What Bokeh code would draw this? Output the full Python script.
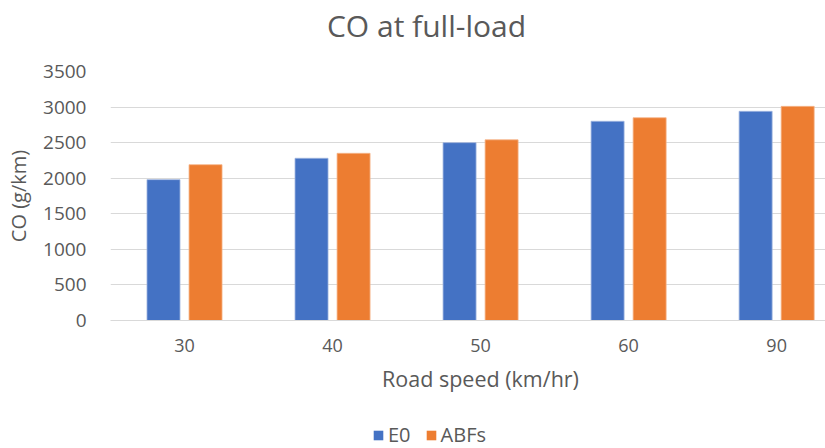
import numpy as np
from bokeh.plotting import figure
from bokeh.layouts import column
from bokeh.models import Legend, LegendItem, Range1d, FixedTicker, Label
from bokeh.embed import file_html
from bokeh.resources import INLINE

categories = ["30", "40", "50", "60", "90"]
e0 = [1980, 2280, 2500, 2800, 2940]
abfs = [2190, 2350, 2540, 2850, 3010]
y_ticks = [0, 500, 1000, 1500, 2000, 2500, 3000, 3500]
series_names = ["E0", "ABFs"]
series_colors = ["#4472C4", "#ED7D31"]
title_text = "CO at full-load"
x_title = "Road speed (km/hr)"
y_title = "CO (g/km)"

FONT = "Open Sans"
GRAY = "#595959"

idx = np.arange(len(categories))


def strip(height):
    f = figure(width=825, height=height, output_backend="svg", toolbar_location=None,
               x_range=Range1d(0, 715), y_range=Range1d(0, height), min_border=0)
    f.axis.visible = False
    f.grid.visible = False
    f.outline_line_color = None
    return f


# title strip
tf = strip(50)
tf.add_layout(Label(x=316, y=25, text=title_text, text_font=FONT, text_font_size="30px",
                    text_color=GRAY, text_align="center", text_baseline="middle"))

# main chart
p = figure(width=825, height=315, output_backend="svg", toolbar_location=None,
           x_range=Range1d(-0.5, 4.33), y_range=Range1d(0, 3500),
           min_border_left=110, min_border_right=0, min_border_top=21, min_border_bottom=45)
p.outline_line_color = None

p.vbar(x=idx - 0.142, top=e0, width=0.223, fill_color=series_colors[0], line_color="#9fb5e0", line_width=0.8)
p.vbar(x=idx + 0.142, top=abfs, width=0.223, fill_color=series_colors[1], line_color="#f5b58a", line_width=0.8)

p.xaxis.ticker = FixedTicker(ticks=list(idx))
p.xaxis.major_label_overrides = {int(i): c for i, c in zip(idx, categories)}
p.xaxis.major_tick_line_color = None
p.xaxis.minor_tick_line_color = None
p.xaxis.axis_line_color = "#d9d9d9"
p.xaxis.axis_line_width = 1.2
p.xaxis.major_label_text_font = FONT
p.xaxis.major_label_text_font_size = "18px"
p.xaxis.major_label_text_color = GRAY
p.xaxis.major_label_standoff = 12

p.yaxis.ticker = FixedTicker(ticks=y_ticks)
p.yaxis.major_tick_line_color = None
p.yaxis.minor_tick_line_color = None
p.yaxis.axis_line_color = None
p.yaxis.major_label_text_font = FONT
p.yaxis.major_label_text_font_size = "19px"
p.yaxis.major_label_text_color = GRAY
p.yaxis.major_label_standoff = 18
p.yaxis.axis_label = y_title
p.yaxis.axis_label_text_font = FONT
p.yaxis.axis_label_text_font_size = "20px"
p.yaxis.axis_label_text_font_style = "normal"
p.yaxis.axis_label_text_color = GRAY
p.yaxis.axis_label_standoff = 8

p.xgrid.grid_line_color = None
p.ygrid.ticker = FixedTicker(ticks=y_ticks)
p.ygrid.grid_line_color = "#d9d9d9"
p.ygrid.grid_line_width = 1.2

# bottom strip: x axis title and legend
bf = strip(83)
bf.add_layout(Label(x=370, y=70, text=x_title, text_font=FONT, text_font_size="21.5px",
                    text_color=GRAY, text_align="center", text_baseline="middle"))
items = []
for name, col, vals in zip(series_names, series_colors, [e0, abfs]):
    r = bf.vbar(x=idx, top=vals, width=0.2, fill_color=col, line_color=None, visible=False)
    items.append(LegendItem(label=name, renderers=[r]))
legend = Legend(items=items, orientation="horizontal", location=(262, 0),
                glyph_width=12, glyph_height=12, label_standoff=4, spacing=14, padding=0, margin=0,
                border_line_color=None, background_fill_alpha=0, inactive_fill_alpha=0,
                label_text_font=FONT, label_text_font_size="20px", label_text_color=GRAY)
bf.add_layout(legend)

open("out.html", "w").write(file_html(column(tf, p, bf, spacing=0), INLINE))
